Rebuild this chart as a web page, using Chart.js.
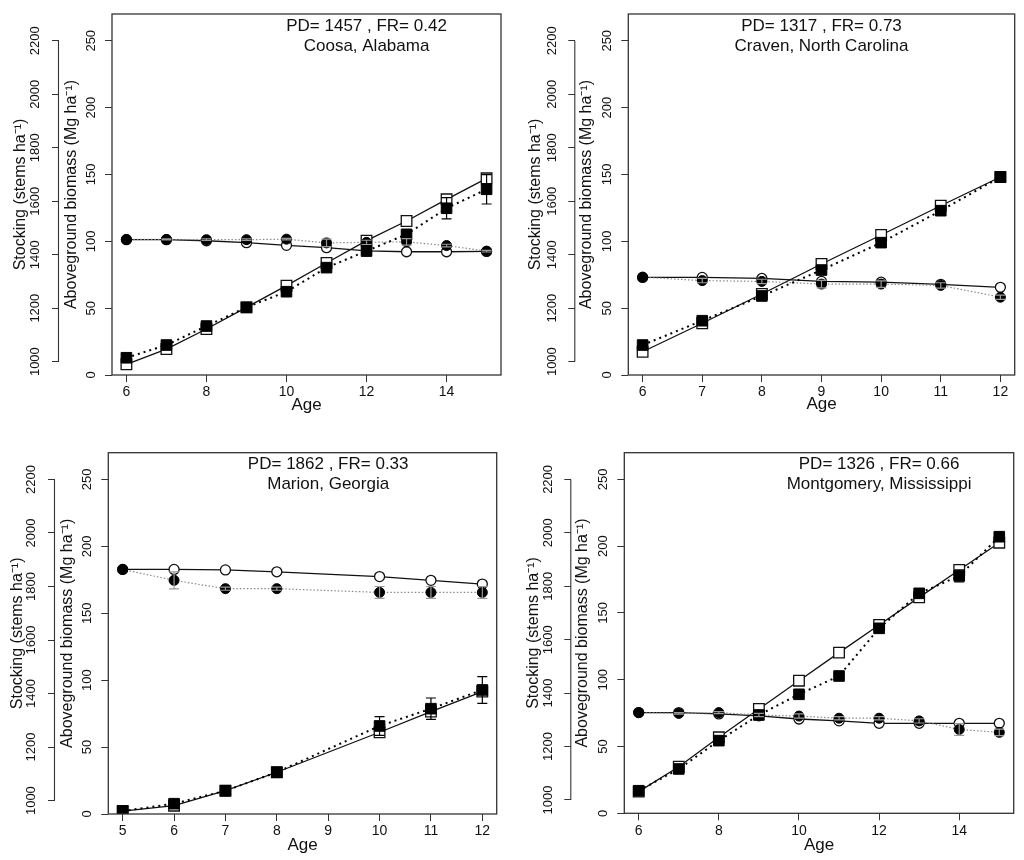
<!DOCTYPE html>
<html>
<head>
<meta charset="utf-8">
<script src="https://cdn.jsdelivr.net/npm/chart.js@4.4.0/dist/chart.umd.min.js"></script>
<style>
html,body{margin:0;padding:0;background:#fff;}
#wrap{position:relative;width:1024px;height:860px;overflow:hidden;background:#fff;}
#wrap canvas{position:absolute;}
</style>
</head>
<body>
<div id="wrap"></div>
<script>
// ---------- shared tick labels / axis ranges ----------
const stockTicks = [1000, 1200, 1400, 1600, 1800, 2000, 2200];
const bioTicks = [0, 50, 100, 150, 200, 250];
const stockRange = [950, 2300];
const bioRange = [0, 270];

// ---------- Panel 1: Coosa, Alabama ----------
const ages1 = [6, 7, 8, 9, 10, 11, 12, 13, 14, 15];
const xTicks1 = [6, 8, 10, 12, 14];
const stockPred1 = [1456, 1456, 1452, 1445, 1435, 1426, 1414, 1411, 1411, 1412];
const stockObs1 = [1457, 1457, 1456, 1456, 1458, 1444, 1446, 1448, 1434, 1413];
const stockErr1 = [0, 2, 3, 3, 3, 14, 8, 12, 5, 3];
const bioPred1 = [8.0, 19.4, 34.4, 50.6, 66.8, 83.8, 100.5, 115.2, 131.4, 147.1];
const bioObs1 = [12.9, 22.4, 36.6, 50.6, 62.3, 80.3, 92.7, 105.2, 124.7, 138.9];
const bioErr1 = [0.5, 1, 1, 1, 1.5, 2, 2, 3.5, 8, 11];

// ---------- Panel 2: Craven, North Carolina ----------
const ages2 = [6, 7, 8, 9, 10, 11, 12];
const xTicks2 = [6, 7, 8, 9, 10, 11, 12];
const stockPred2 = [1315, 1315, 1311, 1300, 1297, 1289, 1278];
const stockObs2 = [1316, 1303, 1300, 1290, 1290, 1285, 1241];
const stockErr2 = [0, 8, 8, 14, 12, 10, 8];
const bioPred2 = [17.4, 38.7, 60.6, 83.0, 104.7, 126.6, 148.1];
const bioObs2 = [22.4, 40.6, 59.1, 78.5, 99.0, 122.9, 148.1];
const bioErr2 = [0.5, 1, 1, 1.5, 1.5, 1.5, 1];

// ---------- Panel 3: Marion, Georgia ----------
const ages3 = [5, 6, 7, 8, 10, 11, 12];
const xTicks3 = [5, 6, 7, 8, 9, 10, 11, 12];
const stockPred3 = [1864, 1864, 1862, 1855, 1837, 1823, 1809];
const stockObs3 = [1864, 1823, 1792, 1792, 1778, 1778, 1778];
const stockErr3 = [0, 32, 6, 6, 22, 22, 22];
const bioPred3 = [2.2, 6.2, 17.4, 31.2, 61.1, 76.5, 91.5];
const bioObs3 = [2.2, 7.7, 17.4, 31.2, 65.8, 78.7, 92.7];
const bioErr3 = [0.5, 1, 1, 1, 7, 8, 10];

// ---------- Panel 4: Montgomery, Mississippi ----------
const ages4 = [6, 7, 8, 9, 10, 11, 12, 13, 14, 15];
const xTicks4 = [6, 8, 10, 12, 14];
const stockPred4 = [1327, 1327, 1322, 1315, 1303, 1296, 1287, 1287, 1287, 1287];
const stockObs4 = [1327, 1324, 1327, 1318, 1314, 1306, 1306, 1296, 1264, 1253];
const stockErr4 = [0, 3, 4, 6, 8, 6, 6, 8, 22, 12];
const bioPred4 = [16.2, 34.9, 56.9, 78.1, 99.3, 120.3, 141.0, 161.7, 182.2, 202.6];
const bioObs4 = [16.9, 33.2, 54.4, 73.6, 89.1, 102.8, 138.5, 164.7, 177.7, 207.1];
const bioErr4 = [0.5, 1, 1, 1, 1.5, 1.5, 1.5, 2.5, 4.5, 3.5];

// ---------- panel texts ----------
const panelStats = ['PD= 1457 , FR= 0.42', 'PD= 1317 , FR= 0.73', 'PD= 1862 , FR= 0.33', 'PD= 1326 , FR= 0.66'];
const siteNames = ['Coosa, Alabama', 'Craven, North Carolina', 'Marion, Georgia', 'Montgomery, Mississippi'];
const textAges = [12, 9, 9, 12];
const xTitle = 'Age';
const bioTitle = 'Aboveground biomass (Mg ha\u207B\u00B9)';
const stockTitle = 'Stocking (stems ha\u207B\u00B9)';

// ---------- build ----------
const FONT = "'Liberation Sans', Arial, Helvetica, sans-serif";
const panels = [
  {ages: ages1, xt: xTicks1, sp: stockPred1, so: stockObs1, se: stockErr1, bp: bioPred1, bo: bioObs1, be: bioErr1},
  {ages: ages2, xt: xTicks2, sp: stockPred2, so: stockObs2, se: stockErr2, bp: bioPred2, bo: bioObs2, be: bioErr2},
  {ages: ages3, xt: xTicks3, sp: stockPred3, so: stockObs3, se: stockErr3, bp: bioPred3, bo: bioObs3, be: bioErr3},
  {ages: ages4, xt: xTicks4, sp: stockPred4, so: stockObs4, se: stockErr4, bp: bioPred4, bo: bioObs4, be: bioErr4}
];
const layouts = [
  {left: 0,   top: 0,   stockW: 59,   bioW: 53,   rp: 11,   tp: 14,   xH: 55,   ageB: 14.8, stockTP: 11,   bioTP: 3},
  {left: 512, top: 0,   stockW: 63.3, bioW: 53,   rp: 9.3,  tp: 14,   xH: 55,   ageB: 15.8, stockTP: 14,   bioTP: 2},
  {left: 0,   top: 430, stockW: 55,   bioW: 53.3, rp: 15.3, tp: 22.7, xH: 46,   ageB: 4.8,  stockTP: 8,    bioTP: 3.4},
  {left: 512, top: 430, stockW: 59.3, bioW: 53,   rp: 10.3, tp: 22.7, xH: 46.7, ageB: 4.8,  stockTP: 11.5, bioTP: 2}
];

const framePlugin = {
  id: 'frame',
  afterDraw(chart) {
    const {ctx, chartArea: a, scales} = chart;
    ctx.save();
    ctx.strokeStyle = '#333';
    ctx.lineWidth = 1.3;
    ctx.strokeRect(a.left, a.top, a.right - a.left, a.bottom - a.top);
    const s = scales.yS;
    ctx.lineWidth = 1.1;
    ctx.beginPath();
    ctx.moveTo(s.right - 0.5, s.getPixelForValue(stockTicks[0]));
    ctx.lineTo(s.right - 0.5, s.getPixelForValue(stockTicks[stockTicks.length - 1]));
    ctx.stroke();
    ctx.restore();
  }
};

const errorPlugin = {
  id: 'errbars',
  afterDatasetsDraw(chart) {
    const ctx = chart.ctx;
    chart.data.datasets.forEach((ds, di) => {
      if (!ds.errors) return;
      const meta = chart.getDatasetMeta(di);
      const ys = chart.scales[ds.yAxisID];
      ctx.save();
      ctx.strokeStyle = ds.errColor;
      ctx.lineWidth = 1.2;
      ds.data.forEach((p, i) => {
        const e = ds.errors[i];
        if (!e) return;
        const x = meta.data[i].x;
        const y1 = ys.getPixelForValue(p.y + e);
        const y2 = ys.getPixelForValue(p.y - e);
        ctx.beginPath();
        ctx.moveTo(x, y1); ctx.lineTo(x, y2);
        ctx.moveTo(x - 5, y1); ctx.lineTo(x + 5, y1);
        ctx.moveTo(x - 5, y2); ctx.lineTo(x + 5, y2);
        ctx.stroke();
      });
      ctx.restore();
    });
  }
};

const sitePlugin = {
  id: 'siteText',
  afterDatasetsDraw(chart, args, opts) {
    const ctx = chart.ctx;
    const x = chart.scales.x.getPixelForValue(opts.age);
    const top = chart.chartArea.top;
    ctx.save();
    ctx.fillStyle = '#111';
    ctx.font = '17px ' + FONT;
    ctx.textAlign = 'center';
    ctx.textBaseline = 'middle';
    ctx.fillText(opts.lines[0], x, top + 12);
    ctx.fillText(opts.lines[1], x, top + 32);
    ctx.restore();
  }
};

const pts = (xs, ys) => xs.map((x, i) => ({x: x, y: ys[i]}));

panels.forEach((d, k) => {
  const L = layouts[k];
  const cv = document.createElement('canvas');
  cv.width = 512; cv.height = 430;
  cv.style.left = L.left + 'px'; cv.style.top = L.top + 'px';
  cv.style.width = '512px'; cv.style.height = '430px';
  document.getElementById('wrap').appendChild(cv);
  const xmin = d.ages[0], xmax = d.ages[d.ages.length - 1];
  const ext = 0.04 * (xmax - xmin);

  new Chart(cv, {
    type: 'line',
    data: {
      datasets: [
        {label: 'Observed biomass', data: pts(d.ages, d.bo), yAxisID: 'yB', errors: d.be, errColor: '#000',
         borderColor: '#000', borderWidth: 2, borderDash: [2, 4], pointStyle: 'rect', pointRadius: 7.5,
         pointBackgroundColor: '#000', pointBorderColor: '#000', pointBorderWidth: 1},
        {label: 'Observed stocking', data: pts(d.ages, d.so), yAxisID: 'yS', errors: d.se, errColor: '#9a9a9a',
         borderColor: '#8a8a8a', borderWidth: 1.2, borderDash: [1.5, 2], pointStyle: 'circle', pointRadius: 5,
         pointBackgroundColor: '#000', pointBorderColor: '#000', pointBorderWidth: 1},
        {label: 'Predicted biomass', data: pts(d.ages, d.bp), yAxisID: 'yB',
         borderColor: '#111', borderWidth: 1.3, pointStyle: 'rect', pointRadius: 7.5,
         pointBackgroundColor: '#fff', pointBorderColor: '#111', pointBorderWidth: 1.3},
        {label: 'Predicted stocking', data: pts(d.ages, d.sp), yAxisID: 'yS',
         borderColor: '#111', borderWidth: 1.3, pointStyle: 'circle', pointRadius: 5,
         pointBackgroundColor: '#fff', pointBorderColor: '#111', pointBorderWidth: 1.3}
      ]
    },
    options: {
      responsive: false,
      animation: false,
      events: [],
      layout: {padding: {left: 0, right: L.rp, top: L.tp, bottom: 0}},
      elements: {line: {tension: 0}},
      plugins: {
        legend: {display: false},
        tooltip: {enabled: false},
        siteText: {age: textAges[k], lines: [panelStats[k], siteNames[k]]}
      },
      scales: {
        x: {
          type: 'linear', min: xmin - ext, max: xmax + ext,
          afterBuildTicks: s => { s.ticks = d.xt.map(v => ({value: v})); },
          afterFit: s => { s.height = L.xH; },
          grid: {display: true, drawOnChartArea: false, drawTicks: true, tickLength: 7, color: '#333', lineWidth: 1},
          border: {display: false},
          ticks: {autoSkip: false, maxRotation: 0, padding: 2, color: '#111', font: {size: 14, family: FONT},
                  callback: v => String(v)},
          title: {display: true, text: xTitle, color: '#111', font: {size: 17, family: FONT},
                  padding: {top: 0, bottom: L.ageB}}
        },
        yB: {
          type: 'linear', position: 'left', weight: 1, min: bioRange[0], max: bioRange[1],
          afterBuildTicks: s => { s.ticks = bioTicks.map(v => ({value: v})); },
          afterFit: s => { s.width = L.bioW; },
          grid: {display: true, drawOnChartArea: false, drawTicks: true, tickLength: 7, color: '#333', lineWidth: 1},
          border: {display: false},
          ticks: {autoSkip: false, minRotation: 90, maxRotation: 90, crossAlign: 'center', padding: 3.2,
                  color: '#111', font: {size: 13, family: FONT}, callback: v => String(v)},
          title: {display: true, text: bioTitle, color: '#111', font: {size: 16, family: FONT},
                  padding: {top: L.bioTP, bottom: 0}}
        },
        yS: {
          type: 'linear', position: 'left', weight: 2, min: stockRange[0], max: stockRange[1],
          afterBuildTicks: s => { s.ticks = stockTicks.map(v => ({value: v})); },
          afterFit: s => { s.width = L.stockW; },
          grid: {display: true, drawOnChartArea: false, drawTicks: true, tickLength: 7, color: '#333', lineWidth: 1},
          border: {display: false},
          ticks: {autoSkip: false, minRotation: 90, maxRotation: 90, crossAlign: 'center', padding: 1.8,
                  color: '#111', font: {size: 13, family: FONT}, callback: v => String(v)},
          title: {display: true, text: stockTitle, color: '#111', font: {size: 16, family: FONT},
                  padding: {top: L.stockTP, bottom: 0}}
        }
      }
    },
    plugins: [framePlugin, errorPlugin, sitePlugin]
  });
});
</script>
</body>
</html>
